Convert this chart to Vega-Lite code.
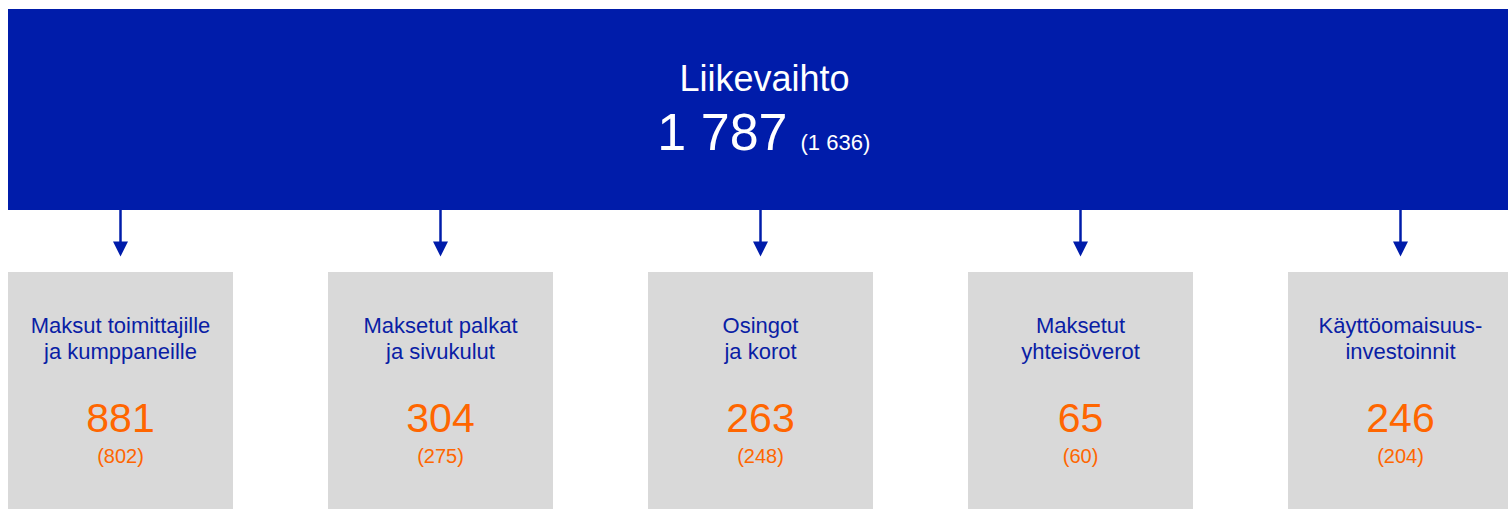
{
  "$schema": "https://vega.github.io/schema/vega-lite/v6.json",
  "width": 1508,
  "height": 510,
  "autosize": {"type": "fit", "contains": "padding"},
  "padding": 0,
  "background": "white",
  "config": {
    "view": {"stroke": null},
    "font": "Liberation Sans",
    "text": {"font": "Liberation Sans"},
    "locale": {"number": {"decimal": ",", "thousands": " ", "grouping": [3], "currency": ["", " €"]}}
  },
  "datasets": {
    "kokonais": [
      {"nimi": "Liikevaihto", "arvo": 1787, "edellinen": 1636}
    ],
    "erat": [
      {"nimi": "Maksut toimittajille ja kumppaneille", "otsikko": ["Maksut toimittajille", "ja kumppaneille"], "arvo": 881, "edellinen": 802},
      {"nimi": "Maksetut palkat ja sivukulut", "otsikko": ["Maksetut palkat", "ja sivukulut"], "arvo": 304, "edellinen": 275},
      {"nimi": "Osingot ja korot", "otsikko": ["Osingot", "ja korot"], "arvo": 263, "edellinen": 248},
      {"nimi": "Maksetut yhteisöverot", "otsikko": ["Maksetut", "yhteisöverot"], "arvo": 65, "edellinen": 60},
      {"nimi": "Käyttöomaisuusinvestoinnit", "otsikko": ["Käyttöomaisuus-", "investoinnit"], "arvo": 246, "edellinen": 204}
    ]
  },
  "layer": [
    {
      "data": {"name": "erat"},
      "mark": {"type": "rect", "color": "#D9D9D9", "clip": true},
      "encoding": {
        "x": {
          "field": "nimi", "type": "nominal", "axis": null,
          "scale": {
            "type": "band",
            "domain": ["Maksut toimittajille ja kumppaneille", "Maksetut palkat ja sivukulut", "Osingot ja korot", "Maksetut yhteisöverot", "Käyttöomaisuusinvestoinnit"],
            "range": [8, 1513],
            "paddingInner": 0.296875,
            "paddingOuter": 0
          }
        },
        "y": {"datum": 272, "type": "quantitative", "axis": null, "scale": {"type": "linear", "domain": [0, 510], "reverse": true, "nice": false, "zero": false}},
        "y2": {"datum": 509}
      }
    },
    {
      "data": {"name": "kokonais"},
      "mark": {"type": "rect", "color": "#001CAA", "clip": true},
      "encoding": {
        "x": {"datum": "Maksut toimittajille ja kumppaneille", "type": "nominal", "bandPosition": 0},
        "x2": {"datum": "Käyttöomaisuusinvestoinnit", "bandPosition": 1},
        "y": {"datum": 9, "type": "quantitative"},
        "y2": {"datum": 210}
      }
    },
    {
      "data": {"name": "kokonais"},
      "mark": {"type": "text", "color": "white", "fontSize": 36, "baseline": "alphabetic", "align": "center", "dx": 4},
      "encoding": {
        "x": {"datum": "Osingot ja korot", "type": "nominal"},
        "y": {"datum": 91, "type": "quantitative"},
        "text": {"field": "nimi", "type": "nominal"}
      }
    },
    {
      "data": {"name": "kokonais"},
      "mark": {"type": "text", "color": "white", "fontSize": 52, "baseline": "alphabetic", "align": "right", "dx": 27},
      "encoding": {
        "x": {"datum": "Osingot ja korot", "type": "nominal"},
        "y": {"datum": 150, "type": "quantitative"},
        "text": {"field": "arvo", "type": "quantitative", "format": ",d"}
      }
    },
    {
      "data": {"name": "kokonais"},
      "mark": {"type": "text", "color": "white", "fontSize": 22, "baseline": "alphabetic", "align": "left", "dx": 40,
        "text": {"expr": "'(' + replace(format(datum.edellinen, ',d'), ',', ' ') + ')'"}},
      "encoding": {
        "x": {"datum": "Osingot ja korot", "type": "nominal"},
        "y": {"datum": 150, "type": "quantitative"}
      }
    },
    {
      "data": {"name": "erat"},
      "mark": {"type": "rule", "color": "#001CAA", "strokeWidth": 2.5},
      "encoding": {
        "x": {"field": "nimi", "type": "nominal"},
        "y": {"datum": 210, "type": "quantitative"},
        "y2": {"datum": 245}
      }
    },
    {
      "data": {"name": "erat"},
      "mark": {"type": "point", "shape": "M-1,-1L1,-1L0,1Z", "size": 225, "filled": true, "color": "#001CAA", "opacity": 1, "strokeWidth": 0},
      "encoding": {
        "x": {"field": "nimi", "type": "nominal"},
        "y": {"datum": 249, "type": "quantitative"}
      }
    },
    {
      "data": {"name": "erat"},
      "mark": {"type": "text", "color": "#0A1EA5", "fontSize": 22, "baseline": "alphabetic", "align": "center", "lineHeight": 26},
      "encoding": {
        "x": {"field": "nimi", "type": "nominal"},
        "y": {"datum": 333, "type": "quantitative"},
        "text": {"field": "otsikko", "type": "nominal"}
      }
    },
    {
      "data": {"name": "erat"},
      "mark": {"type": "text", "color": "#FF6600", "fontSize": 41, "baseline": "alphabetic", "align": "center"},
      "encoding": {
        "x": {"field": "nimi", "type": "nominal"},
        "y": {"datum": 432, "type": "quantitative"},
        "text": {"field": "arvo", "type": "quantitative", "format": ",d"}
      }
    },
    {
      "data": {"name": "erat"},
      "mark": {"type": "text", "color": "#FF6600", "fontSize": 20, "baseline": "alphabetic", "align": "center",
        "text": {"expr": "'(' + replace(format(datum.edellinen, ',d'), ',', ' ') + ')'"}},
      "encoding": {
        "x": {"field": "nimi", "type": "nominal"},
        "y": {"datum": 463, "type": "quantitative"}
      }
    }
  ]
}
